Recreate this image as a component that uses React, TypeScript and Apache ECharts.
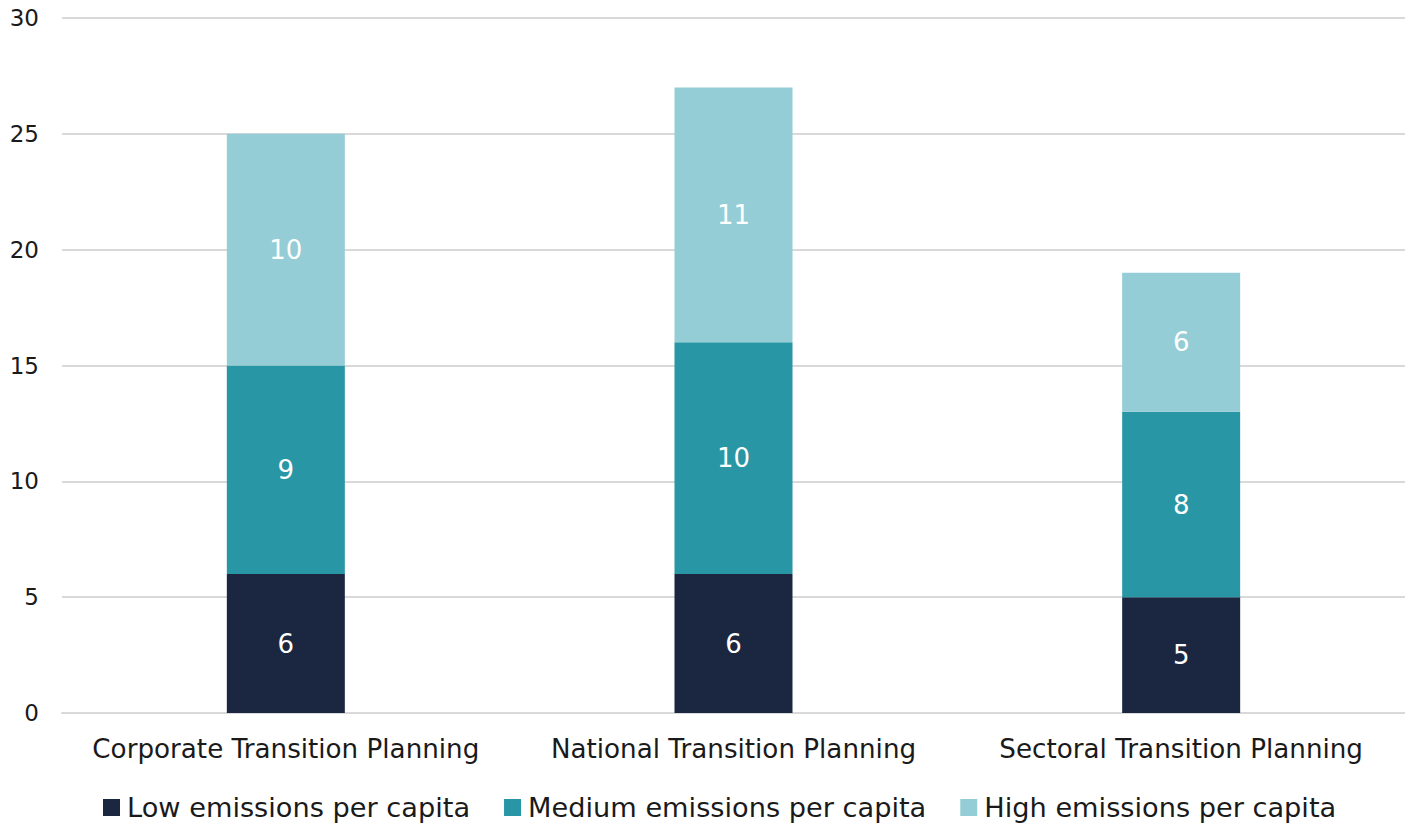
import React, { useEffect, useRef } from "react";
import * as echarts from "echarts";

const categories = [
  "Corporate Transition Planning",
  "National Transition Planning",
  "Sectoral Transition Planning",
];
const lowEmissions = [6, 6, 5];
const mediumEmissions = [9, 10, 8];
const highEmissions = [10, 11, 6];
const seriesNames = [
  "Low emissions per capita",
  "Medium emissions per capita",
  "High emissions per capita",
];
const colors = ["#1B2640", "#2896A5", "#94CDD6"];

const FONT = "'DejaVu Sans', 'Noto Sans', sans-serif";

export default function App() {
  const ref = useRef<HTMLDivElement>(null);

  useEffect(() => {
    if (!ref.current) return;
    const chart = echarts.init(ref.current, undefined, { renderer: "svg" });
    const data = [lowEmissions, mediumEmissions, highEmissions];
    chart.setOption({
      animation: false,
      textStyle: { fontFamily: FONT },
      grid: { left: 62, right: 0, top: 18, bottom: 115, containLabel: false },
      legend: {
        bottom: 2,
        left: 98,
        itemWidth: 17,
        itemHeight: 17,
        itemGap: 34,
        icon: "rect",
        textStyle: { fontSize: 27.2, color: "#1a1a1a", fontFamily: FONT, padding: [0, 0, 0, 2] },
        data: seriesNames,
      },
      xAxis: {
        type: "category",
        data: categories,
        axisLine: { show: true, lineStyle: { color: "#d9d9d9", width: 2 } },
        axisTick: { show: false },
        axisLabel: { interval: 0, fontSize: 26.2, color: "#1a1a1a", margin: 23, fontFamily: FONT },
      },
      yAxis: {
        type: "value",
        min: 0,
        max: 30,
        interval: 5,
        axisLine: { show: false },
        axisTick: { show: false },
        splitLine: { lineStyle: { color: "#d9d9d9", width: 2 } },
        axisLabel: { fontSize: 23, color: "#1a1a1a", margin: 23, fontFamily: FONT },
      },
      series: seriesNames.map((name, i) => ({
        name,
        type: "bar",
        stack: "total",
        data: data[i],
        barWidth: 118,
        itemStyle: { color: colors[i] },
        label: {
          show: true,
          position: "inside",
          color: "#ffffff",
          fontSize: 26,
          fontFamily: FONT,
        },
      })),
    });
    return () => chart.dispose();
  }, []);

  return (
    <div
      ref={ref}
      style={{ position: "fixed", left: 0, top: 0, width: 1405, height: 828, background: "#fff" }}
    />
  );
}
